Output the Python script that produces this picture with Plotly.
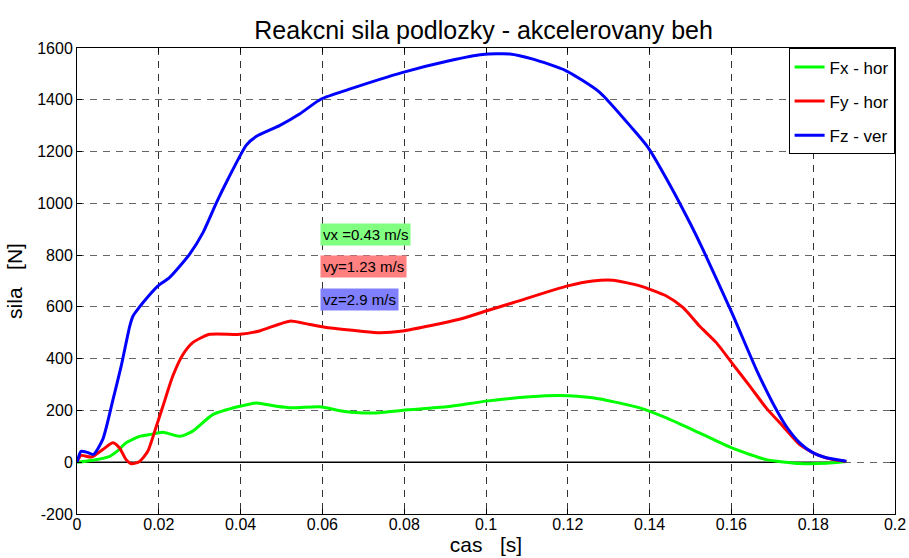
import plotly.graph_objects as go

# Ground reaction force during an accelerated run (time in s, force in N)
t_fx = [0, 0.0039, 0.008, 0.01, 0.012, 0.0153, 0.0178, 0.021, 0.0251, 0.0283,
        0.0332, 0.0398, 0.0438, 0.0487, 0.0528, 0.0593, 0.065, 0.069, 0.074,
        0.0797, 0.0903, 0.1, 0.1107, 0.118, 0.1261, 0.1376, 0.1441, 0.1522,
        0.1601, 0.1645, 0.1685, 0.1726, 0.1767, 0.1832, 0.1881]
fx = [0, 8, 23, 45, 75, 100, 107, 116, 100, 120,
      184, 216, 229, 216, 210, 214, 197, 191, 191,
      201, 214, 236, 253, 258, 249, 210, 171, 113,
      55, 30, 10, 1, -5, -4, 3]

t_fy = [0, 0.001, 0.0035, 0.0063, 0.0088, 0.0104, 0.012, 0.0133, 0.0153, 0.0173,
        0.0194, 0.021, 0.0234, 0.0259, 0.0283, 0.0324, 0.0398, 0.0446, 0.052,
        0.0569, 0.061, 0.069, 0.074, 0.0797, 0.0935, 0.1, 0.1066, 0.12, 0.1261,
        0.131, 0.1376, 0.1441, 0.1482, 0.1522, 0.1563, 0.1601, 0.1645, 0.1685,
        0.1726, 0.1767, 0.1808, 0.1848, 0.1881]
fy = [0, 26, 20, 49, 75, 55, 10, -6, 3, 42,
      139, 216, 332, 416, 462, 494, 494, 507, 545,
      532, 520, 507, 500, 507, 552, 584, 616, 681, 700,
      703, 681, 642, 597, 526, 462, 384, 294, 210,
      139, 68, 30, 10, 3]

t_fz = [0, 0.001, 0.0025, 0.004, 0.0063, 0.0088, 0.0108, 0.0129, 0.0137, 0.0153,
        0.0161, 0.0198, 0.0226, 0.0275, 0.0308, 0.0341, 0.0369, 0.0414, 0.0438,
        0.0495, 0.0544, 0.0597, 0.0666, 0.0797, 0.091, 0.0992, 0.1058, 0.1115,
        0.1196, 0.1278, 0.1359, 0.1396, 0.145, 0.15, 0.153, 0.1601, 0.1661,
        0.1701, 0.1734, 0.1767, 0.18, 0.1832, 0.1881]
fz = [0, 42, 38, 30, 88, 242, 371, 526, 565, 600,
      616, 681, 713, 803, 887, 1003, 1093, 1225, 1258,
      1300, 1345, 1403, 1441, 1506, 1551, 1575, 1577, 1557,
      1512, 1429, 1287, 1216, 1070, 920, 823, 578, 358,
      229, 139, 75, 36, 17, 4]

t_zero = [0, 0.1881]
zero = [0, 0]

x_ticks = [0, 0.02, 0.04, 0.06, 0.08, 0.1, 0.12, 0.14, 0.16, 0.18, 0.2]
x_tick_text = ["0", "0.02", "0.04", "0.06", "0.08", "0.1", "0.12", "0.14", "0.16", "0.18", "0.2"]
y_ticks = [-200, 0, 200, 400, 600, 800, 1000, 1200, 1400, 1600]
y_tick_text = ["-200", "0", "200", "400", "600", "800", "1000", "1200", "1400", "1600"]

series = [
    ("Fx - hor", t_fx, fx, "#00ff00"),
    ("Fy - hor", t_fy, fy, "#ff0000"),
    ("Fz - ver", t_fz, fz, "#0000ff"),
]

speed_labels = [
    ("vx =0.43 m/s", 880, "#80ff80"),
    ("vy=1.23 m/s", 755, "#ff8080"),
    ("vz=2.9 m/s", 629, "#8080ff"),
]

FONT = "Liberation Sans, Arial, Helvetica, sans-serif"

fig = go.Figure()

fig.add_trace(go.Scatter(x=t_zero, y=zero, mode="lines",
                         line=dict(color="black", width=1.5),
                         showlegend=False, hoverinfo="skip"))

for name, tx, fv, col in series:
    fig.add_trace(go.Scatter(
        x=tx, y=fv, mode="lines", name=name, legendgroup=name,
        line=dict(color=col, width=3, shape="spline", smoothing=0.6),
    ))

for text, yv, bg in speed_labels:
    fig.add_annotation(
        x=0.0593, y=yv, xref="x", yref="y", text=text, showarrow=False,
        xanchor="left", yanchor="middle", bgcolor=bg,
        font=dict(family=FONT, size=15, color="black"),
        borderpad=2,
    )

axis_common = dict(
    showline=True, linecolor="black", linewidth=1, mirror="ticks",
    ticks="inside", ticklen=5, tickcolor="black",
    showgrid=True, griddash="7px,6px", gridwidth=1,
    zeroline=False, automargin=False,
    tickfont=dict(family=FONT, size=16, color="black"),
)

fig.update_xaxes(
    range=[0, 0.2], tickvals=x_ticks, ticktext=x_tick_text,
    gridcolor="#333333", ticklabelstandoff=-4,
    title=dict(text="cas\u00a0\u00a0\u00a0[s]", font=dict(family=FONT, size=21, color="black"),
               standoff=4),
    **axis_common,
)
fig.update_yaxes(
    range=[-200, 1600], tickvals=y_ticks, ticktext=y_tick_text,
    gridcolor="#666666",
    title=dict(text="sila\u00a0\u00a0\u00a0[N]", font=dict(family=FONT, size=21, color="black"),
               standoff=8),
    **axis_common,
)

fig.update_layout(
    width=909, height=558,
    margin=dict(l=77, r=14, t=48, b=44, autoexpand=False),
    paper_bgcolor="white", plot_bgcolor="white",
    title=dict(text="Reakcni sila podlozky - akcelerovany beh",
               font=dict(family=FONT, size=25, color="black"),
               x=0.532, xanchor="center", y=0.946, yanchor="middle"),
    legend=dict(
        x=0.9995, y=0.999, xanchor="right", yanchor="top",
        bgcolor="white", bordercolor="black", borderwidth=1,
        font=dict(family=FONT, size=17, color="black"),
        traceorder="grouped", tracegroupgap=9, itemwidth=30,
    ),
    showlegend=True,
)

fig.write_html("out.html")
